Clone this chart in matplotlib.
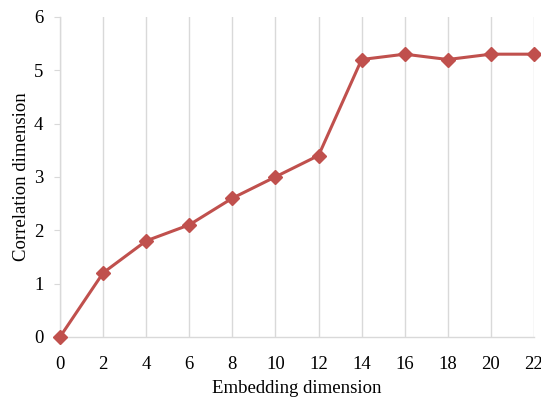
import matplotlib
matplotlib.use("Agg")
import matplotlib.pyplot as plt

# data
embedding = [0, 2, 4, 6, 8, 10, 12, 14, 16, 18, 20, 22]
correlation = [0, 1.2, 1.8, 2.1, 2.6, 3.0, 3.4, 5.2, 5.3, 5.2, 5.3, 5.3]

plt.rcParams['font.family'] = ['Liberation Serif', 'DejaVu Serif']

fig = plt.figure(figsize=(5.41, 4.01), dpi=100)
ax = fig.add_axes([0.111, 0.160, 0.876, 0.798])

ax.plot(embedding, correlation, color='#C0504D', lw=2.2, marker='D', ms=7,
        clip_on=False, zorder=3)

ax.set_xlim(0, 22)
ax.set_ylim(0, 6)
ax.set_xticks(embedding)
ax.set_yticks(range(7))
ax.grid(axis='x', color='#D9D9D9', lw=1)
ax.set_axisbelow(True)

for s in ['top', 'right']:
    ax.spines[s].set_visible(False)
for s in ['left', 'bottom']:
    ax.spines[s].set_color('#D9D9D9')
    ax.spines[s].set_linewidth(1)

ax.tick_params(axis='x', length=0, pad=14, labelsize=13.5)
ax.tick_params(axis='y', length=4, color='#D9D9D9', pad=8, labelsize=13.5)

ax.set_xlabel('Embedding dimension', fontsize=13.5, labelpad=5)
ax.set_ylabel('Correlation dimension', fontsize=13.5, labelpad=3)

fig.savefig('out.png', dpi=100)
